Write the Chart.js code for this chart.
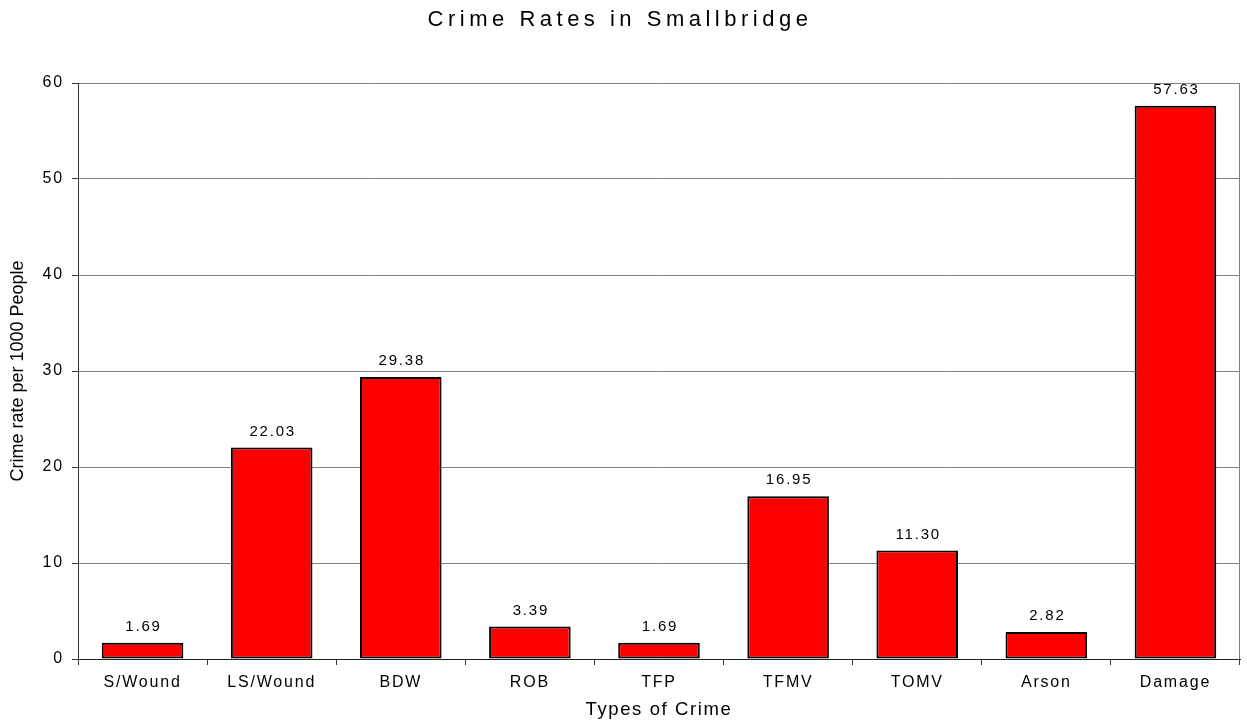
<!DOCTYPE html>
<html>
<head>
<meta charset="utf-8">
<script src="https://cdn.jsdelivr.net/npm/chart.js@4"></script>
<style>
  html, body { margin: 0; padding: 0; background: #fff; }
  #wrap { width: 1247px; height: 722px; }
</style>
</head>
<body>
<div id="wrap"><canvas id="crimeChart" width="1247" height="722"></canvas></div>
<script>
const crimeTypes = ['S/Wound', 'LS/Wound', 'BDW', 'ROB', 'TFP', 'TFMV', 'TOMV', 'Arson', 'Damage'];
const crimeRates = [1.69, 22.03, 29.38, 3.39, 1.69, 16.95, 11.30, 2.82, 57.63];
const yTicks = [0, 10, 20, 30, 40, 50, 60];

const FONT = 'Liberation Sans, Arial, sans-serif';

// loose Excel-style letter spacing, picked by font size
const spacingBySize = { '22': '4.5px', '18.5': '1.6px', '16': '1.8px', '15': '1.8px', '18': '0px' };

const spacingPlugin = {
    id: 'spacing',
    beforeInit(chart) {
        const ctx = chart.ctx;
        const origFill = ctx.fillText.bind(ctx);
        ctx.fillText = function (text, x, y, maxW) {
            const m = ctx.font.match(/([\d.]+)px/);
            ctx.letterSpacing = (m && spacingBySize[m[1]]) || '0px';
            if (maxW === undefined) origFill(text, x, y);
            else origFill(text, x, y, maxW);
            ctx.letterSpacing = '0px';
        };
    }
};

const frameAndLabels = {
    id: 'frameAndLabels',
    afterDatasetsDraw(chart) {
        const ctx = chart.ctx;
        const area = chart.chartArea;
        ctx.save();
        ctx.strokeStyle = '#808080';
        ctx.lineWidth = 1;
        ctx.beginPath();
        ctx.moveTo(area.right - 0.5, area.top);
        ctx.lineTo(area.right - 0.5, area.bottom);
        ctx.stroke();

        ctx.fillStyle = '#000';
        ctx.font = '15px ' + FONT;
        ctx.textAlign = 'center';
        ctx.textBaseline = 'middle';
        chart.getDatasetMeta(0).data.forEach((bar, i) => {
            ctx.fillText(crimeRates[i].toFixed(2), bar.x + 1, bar.y - 16);
        });
        ctx.restore();
    }
};

new Chart(document.getElementById('crimeChart').getContext('2d'), {
    type: 'bar',
    data: {
        labels: crimeTypes,
        datasets: [{
            data: crimeRates,
            backgroundColor: '#ff0000',
            borderColor: '#000000',
            borderWidth: 2,
            borderSkipped: false,
            categoryPercentage: 1,
            barPercentage: 0.632
        }]
    },
    options: {
        responsive: false,
        animation: false,
        layout: { padding: { left: 0, right: 7, top: 0, bottom: 0 } },
        plugins: {
            legend: { display: false },
            tooltip: { enabled: false },
            title: {
                display: true,
                text: 'Crime Rates in Smallbridge',
                color: '#000',
                font: { family: FONT, size: 22, weight: 'normal' },
                padding: { top: 7, bottom: 49.6 }
            }
        },
        scales: {
            x: {
                afterFit: s => { s.height = 63; },
                grid: {
                    display: true,
                    drawOnChartArea: false,
                    offset: true,
                    tickLength: 6,
                    color: '#333'
                },
                border: { color: '#222', width: 1 },
                ticks: {
                    color: '#000',
                    padding: 8,
                    maxRotation: 0,
                    font: { family: FONT, size: 16 }
                },
                title: {
                    display: true,
                    text: 'Types of Crime',
                    color: '#000',
                    font: { family: FONT, size: 18.5 },
                    padding: { top: 0, bottom: 1 }
                }
            },
            y: {
                min: 0,
                max: 60,
                afterFit: s => { s.width = 78; },
                afterBuildTicks: s => { s.ticks = yTicks.map(v => ({ value: v })); },
                grid: {
                    color: '#808080',
                    tickColor: '#333',
                    tickLength: 6
                },
                border: { color: '#333', width: 1 },
                ticks: {
                    color: '#000',
                    padding: 8,
                    font: { family: FONT, size: 16 }
                },
                title: {
                    display: true,
                    text: 'Crime rate per 1000 People',
                    color: '#000',
                    font: { family: FONT, size: 18 },
                    padding: { top: 7, bottom: 0 }
                }
            }
        }
    },
    plugins: [spacingPlugin, frameAndLabels]
});
</script>
</body>
</html>
